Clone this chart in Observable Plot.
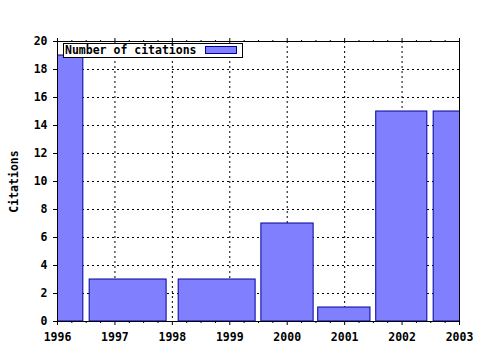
<!DOCTYPE html>
<html>
<head>
<meta charset="utf-8">
<script src="https://cdn.jsdelivr.net/npm/d3@7"></script>
<script src="https://cdn.jsdelivr.net/npm/@observablehq/plot@0.6"></script>
<style>
  html, body { margin: 0; padding: 0; background: #fff; }
  #wrap { position: relative; width: 480px; height: 350px; }
  #legend {
    position: absolute; left: 63px; top: 43px; width: 178px; height: 13px;
    border: 1px solid #000; background: #fff; box-sizing: content-box;
    font: bold 11.5px "DejaVu Sans Mono", monospace; line-height: 13px;
  }
  #legend span.t { position: absolute; left: 1px; top: 0; }
  #legend span.s { position: absolute; left: 141px; top: 2px; width: 30px; height: 6px;
    background: #8080ff; border: 1px solid #0000a0; }
</style>
</head>
<body>
<div id="wrap"></div>
<script>
// Data
const seriesName = "Number of citations";
const binStart = [1995.55, 1996.56, 1998.11, 1999.55, 2000.54, 2001.55, 2002.55];
const binEnd   = [1996.45, 1997.90, 1999.45, 2000.46, 2001.45, 2002.44, 2003.45];
const citations = [19, 3, 3, 7, 1, 15, 15];
const xTicks = [1996, 1997, 1998, 1999, 2000, 2001, 2002, 2003];
const yTicks = [0, 2, 4, 6, 8, 10, 12, 14, 16, 18, 20];

const data = citations.map((v, i) => ({x1: binStart[i], x2: binEnd[i], v}));
const xMinor = [];
for (let i = 0; i < xTicks.length - 1; i++) for (let k = 1; k < 4; k++) xMinor.push(xTicks[i] + k / 4);

const font = "DejaVu Sans Mono, monospace";
const chart = Plot.plot({
  width: 480, height: 350,
  marginLeft: 57, marginRight: 21, marginTop: 41, marginBottom: 29,
  style: {fontFamily: font, fontSize: "11.5px", fontWeight: "bold", background: "#fff", color: "#000"},
  x: {domain: [1996, 2003]},
  y: {domain: [0, 20]},
  marks: [
    Plot.gridX(xTicks, {stroke: "#000", strokeOpacity: 1, strokeDasharray: "2,3"}),
    Plot.gridY(yTicks, {stroke: "#000", strokeOpacity: 1, strokeDasharray: "2,3"}),
    Plot.rect(data, {x1: "x1", x2: "x2", y1: 0, y2: "v", fill: "#8080ff", stroke: "#00009a", strokeWidth: 1, clip: true}),
    Plot.axisX({ticks: xTicks, tickSize: 4, tickPadding: 7, tickFormat: d => String(d), label: null, fontWeight: "bold"}),
    Plot.axisX({ticks: xMinor, tickSize: 2, text: null, label: null}),
    Plot.axisX({anchor: "top", ticks: xTicks, tickSize: 4, text: null, label: null}),
    Plot.axisX({anchor: "top", ticks: xMinor, tickSize: 2, text: null, label: null}),
    Plot.axisY({ticks: yTicks, tickSize: 4, tickPadding: 6, tickFormat: d => String(d), label: "Citations",
      labelAnchor: "center", labelArrow: "none", labelOffset: 48, fontWeight: "bold"}),
    Plot.frame({stroke: "#000"})
  ]
});
const wrap = document.getElementById("wrap");
wrap.appendChild(chart);
const leg = document.createElement("div");
leg.id = "legend";
leg.innerHTML = `<span class="t"></span><span class="s"></span>`;
leg.querySelector(".t").textContent = seriesName;
wrap.appendChild(leg);
</script>
</body>
</html>
